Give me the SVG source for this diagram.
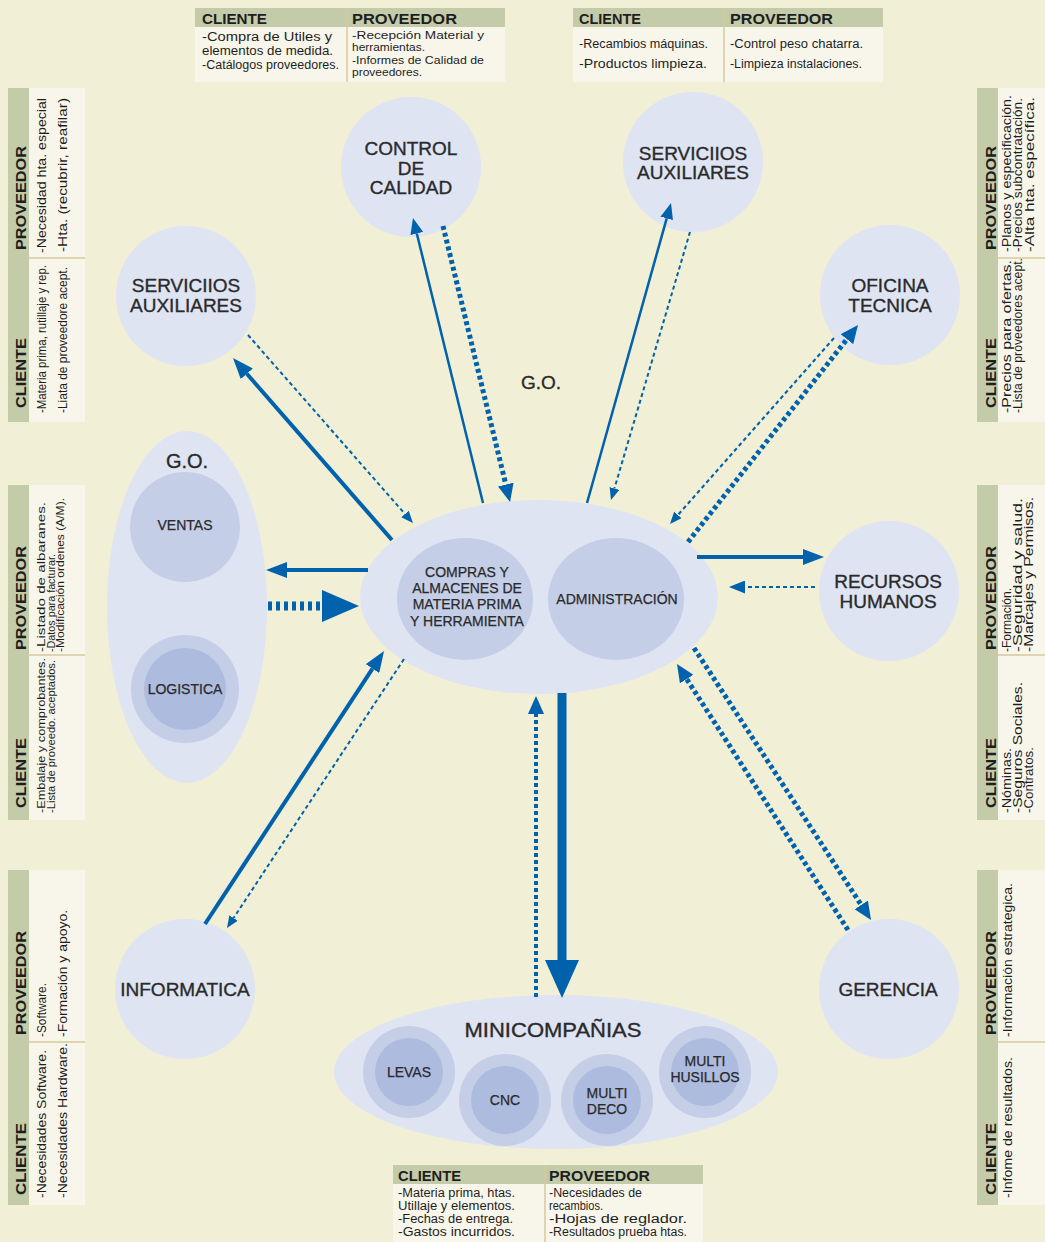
<svg xmlns="http://www.w3.org/2000/svg" width="1045" height="1242" viewBox="0 0 1045 1242">
<style>
.tb{fill:#f8f6ea}
.th{fill:#c3cba9}
.dv{stroke:#d8c89c;stroke-width:1.5}
.hd{font-family:"Liberation Sans",Arial,sans-serif;font-weight:bold;font-size:15px;fill:#1e1e1e}
.bd{font-family:"Liberation Sans",Arial,sans-serif;font-size:12.5px;fill:#1e1e1e}
.bt{font-family:"Liberation Sans",Arial,sans-serif;font-size:10.5px;fill:#1e1e1e}
.bs{font-family:"Liberation Sans",Arial,sans-serif;font-size:11.5px;fill:#1e1e1e}
.n1{fill:#dfe4f3}
.n2{fill:#c5cee7}
.n3{fill:#adbbdf}
.lb{font-family:"Liberation Sans",Arial,sans-serif;font-size:19px;fill:#2a2a2a;text-anchor:middle;stroke:#2a2a2a;stroke-width:0.35}
.ls{font-family:"Liberation Sans",Arial,sans-serif;font-size:14px;fill:#2a2a2a;text-anchor:middle;stroke:#2a2a2a;stroke-width:0.25}
.c{fill:none;stroke:#0062ac}
.sol4{stroke-width:4}
.sol2{stroke-width:2.5}
.da{stroke-width:2;stroke-dasharray:4 3}
.dot{stroke-width:5;stroke-dasharray:4 3}
</style>
<defs>
<marker id="aL" markerUnits="userSpaceOnUse" markerWidth="21" markerHeight="16" refX="0" refY="8" orient="auto"><path d="M0,0 L21,8 L0,16 z" fill="#0062ac"/></marker>
<marker id="aM" markerUnits="userSpaceOnUse" markerWidth="16" markerHeight="13" refX="0" refY="6.5" orient="auto"><path d="M0,0 L16,6.5 L0,13 z" fill="#0062ac"/></marker>
<marker id="aS" markerUnits="userSpaceOnUse" markerWidth="12" markerHeight="10" refX="0" refY="5" orient="auto"><path d="M0,0 L12,5 L0,10 z" fill="#0062ac"/></marker>
<marker id="aD" markerUnits="userSpaceOnUse" markerWidth="18" markerHeight="16" refX="0" refY="8" orient="auto"><path d="M0,0 L18,8 L0,16 z" fill="#0062ac"/></marker>
<marker id="aB" markerUnits="userSpaceOnUse" markerWidth="38" markerHeight="34" refX="0" refY="17" orient="auto"><path d="M0,0 L38,17 L0,34 z" fill="#0062ac"/></marker>
<marker id="aG" markerUnits="userSpaceOnUse" markerWidth="37" markerHeight="32" refX="0" refY="16" orient="auto"><path d="M0,0 L37,16 L0,32 z" fill="#0062ac"/></marker>
</defs>
<rect width="1045" height="1242" fill="#f1efd5"/>

<!-- Top table 1 -->
<g id="tabla-calidad">
<rect class="tb" x="195" y="8" width="310" height="74"/>
<rect class="th" x="195" y="8" width="310" height="19"/>
<line class="dv" x1="347" y1="8" x2="347" y2="82"/>
<text class="hd" x="202" y="24" textLength="65" lengthAdjust="spacingAndGlyphs">CLIENTE</text>
<text class="hd" x="352" y="24" textLength="105" lengthAdjust="spacingAndGlyphs">PROVEEDOR</text>
<text class="bd" x="202" y="41" textLength="130" lengthAdjust="spacingAndGlyphs">-Compra de Utiles y</text>
<text class="bd" x="202" y="55" textLength="131" lengthAdjust="spacingAndGlyphs">elementos de medida.</text>
<text class="bd" x="202" y="69" textLength="137" lengthAdjust="spacingAndGlyphs">-Catálogos proveedores.</text>
<text class="bt" x="352" y="39" textLength="132" lengthAdjust="spacingAndGlyphs">-Recepción Material y</text>
<text class="bt" x="352" y="51" textLength="73" lengthAdjust="spacingAndGlyphs">herramientas.</text>
<text class="bt" x="352" y="64" textLength="132" lengthAdjust="spacingAndGlyphs">-Informes de Calidad de</text>
<text class="bt" x="352" y="76" textLength="70" lengthAdjust="spacingAndGlyphs">proveedores.</text>
</g>

<!-- Top table 2 -->
<g id="tabla-servicios-top">
<rect class="tb" x="573" y="8" width="310" height="74"/>
<rect class="th" x="573" y="8" width="310" height="19"/>
<line class="dv" x1="724" y1="8" x2="724" y2="82"/>
<text class="hd" x="579" y="24" textLength="62" lengthAdjust="spacingAndGlyphs">CLIENTE</text>
<text class="hd" x="730" y="24" textLength="103" lengthAdjust="spacingAndGlyphs">PROVEEDOR</text>
<text class="bd" x="579" y="48" textLength="129" lengthAdjust="spacingAndGlyphs">-Recambios máquinas.</text>
<text class="bd" x="579" y="68" textLength="128" lengthAdjust="spacingAndGlyphs">-Productos  limpieza.</text>
<text class="bd" x="730" y="48" textLength="133" lengthAdjust="spacingAndGlyphs">-Control peso chatarra.</text>
<text class="bd" x="730" y="68" textLength="132" lengthAdjust="spacingAndGlyphs">-Limpieza instalaciones.</text>
</g>

<!-- Left table 1 -->
<g id="tabla-servicios-izq">
<rect class="tb" x="8" y="88" width="77" height="334"/>
<rect class="th" x="8" y="88" width="21" height="334"/>
<line class="dv" x1="29" y1="258" x2="85" y2="258"/>
<text class="hd" x="26" y="250" transform="rotate(-90 26 250)" textLength="104" lengthAdjust="spacingAndGlyphs">PROVEEDOR</text>
<text class="hd" x="26" y="408" transform="rotate(-90 26 408)" textLength="70" lengthAdjust="spacingAndGlyphs">CLIENTE</text>
<text class="bd" x="46" y="253" transform="rotate(-90 46 253)" textLength="155" lengthAdjust="spacingAndGlyphs">-Necesidad hta. especial</text>
<text class="bd" x="67" y="252" transform="rotate(-90 67 252)" textLength="154" lengthAdjust="spacingAndGlyphs">-Hta.  (recubrir,  reafilar)</text>
<text class="bd" x="46" y="413" transform="rotate(-90 46 413)" textLength="148" lengthAdjust="spacingAndGlyphs">-Materia prima, rutillaje y rep.</text>
<text class="bd" x="67" y="413" transform="rotate(-90 67 413)" textLength="146" lengthAdjust="spacingAndGlyphs">-Liata de proveedore acept.</text>
</g>

<!-- Left table 2 -->
<g id="tabla-go">
<rect class="tb" x="8" y="485" width="77" height="335"/>
<rect class="th" x="8" y="485" width="21" height="335"/>
<line class="dv" x1="29" y1="655" x2="85" y2="655"/>
<text class="hd" x="26" y="650" transform="rotate(-90 26 650)" textLength="104" lengthAdjust="spacingAndGlyphs">PROVEEDOR</text>
<text class="hd" x="26" y="808" transform="rotate(-90 26 808)" textLength="70" lengthAdjust="spacingAndGlyphs">CLIENTE</text>
<text class="bs" x="45" y="652" transform="rotate(-90 45 652)" textLength="150" lengthAdjust="spacingAndGlyphs">-Listado  de  albaranes.</text>
<text class="bs" x="55" y="652" transform="rotate(-90 55 652)" textLength="98" lengthAdjust="spacingAndGlyphs">-Datos para facturar.</text>
<text class="bs" x="64" y="652" transform="rotate(-90 64 652)" textLength="154" lengthAdjust="spacingAndGlyphs">-Modificación ordenes (A/M).</text>
<text class="bs" x="45" y="813" transform="rotate(-90 45 813)" textLength="155" lengthAdjust="spacingAndGlyphs">-Embalaje  y  comprobantes.</text>
<text class="bs" x="55" y="813" transform="rotate(-90 55 813)" textLength="153" lengthAdjust="spacingAndGlyphs">-Lista de proveedo. aceptados.</text>
</g>

<!-- Left table 3 -->
<g id="tabla-informatica">
<rect class="tb" x="8" y="870" width="77" height="335"/>
<rect class="th" x="8" y="870" width="21" height="335"/>
<line class="dv" x1="29" y1="1042" x2="85" y2="1042"/>
<text class="hd" x="26" y="1035" transform="rotate(-90 26 1035)" textLength="104" lengthAdjust="spacingAndGlyphs">PROVEEDOR</text>
<text class="hd" x="26" y="1195" transform="rotate(-90 26 1195)" textLength="72" lengthAdjust="spacingAndGlyphs">CLIENTE</text>
<text class="bd" x="46" y="1037" transform="rotate(-90 46 1037)" textLength="54" lengthAdjust="spacingAndGlyphs">-Software.</text>
<text class="bd" x="67" y="1037" transform="rotate(-90 67 1037)" textLength="127" lengthAdjust="spacingAndGlyphs">-Formación  y apoyo.</text>
<text class="bd" x="46" y="1198" transform="rotate(-90 46 1198)" textLength="148" lengthAdjust="spacingAndGlyphs">-Necesidades  Software.</text>
<text class="bd" x="67" y="1198" transform="rotate(-90 67 1198)" textLength="155" lengthAdjust="spacingAndGlyphs">-Necesidades Hardware.</text>
</g>

<!-- Right table 1 -->
<g id="tabla-oficina">
<rect class="tb" x="977" y="88" width="68" height="334"/>
<rect class="th" x="977" y="88" width="21" height="334"/>
<line class="dv" x1="998" y1="258" x2="1045" y2="258"/>
<text class="hd" x="996" y="250" transform="rotate(-90 996 250)" textLength="104" lengthAdjust="spacingAndGlyphs">PROVEEDOR</text>
<text class="hd" x="996" y="408" transform="rotate(-90 996 408)" textLength="70" lengthAdjust="spacingAndGlyphs">CLIENTE</text>
<text class="bd" x="1011" y="252" transform="rotate(-90 1011 252)" textLength="157" lengthAdjust="spacingAndGlyphs">-Planos y especificación.</text>
<text class="bd" x="1022" y="252" transform="rotate(-90 1022 252)" textLength="154" lengthAdjust="spacingAndGlyphs">-Precios subcontratación.</text>
<text class="bd" x="1034" y="252" transform="rotate(-90 1034 252)" textLength="155" lengthAdjust="spacingAndGlyphs">-Alta  hta.  específica.</text>
<text class="bd" x="1011" y="413" transform="rotate(-90 1011 413)" textLength="153" lengthAdjust="spacingAndGlyphs">-Precios  para  ofertas.</text>
<text class="bd" x="1022" y="413" transform="rotate(-90 1022 413)" textLength="155" lengthAdjust="spacingAndGlyphs">-Lista de proveedores acept.</text>
</g>

<!-- Right table 2 -->
<g id="tabla-rrhh">
<rect class="tb" x="977" y="485" width="68" height="335"/>
<rect class="th" x="977" y="485" width="21" height="335"/>
<line class="dv" x1="998" y1="655" x2="1045" y2="655"/>
<text class="hd" x="996" y="650" transform="rotate(-90 996 650)" textLength="104" lengthAdjust="spacingAndGlyphs">PROVEEDOR</text>
<text class="hd" x="996" y="808" transform="rotate(-90 996 808)" textLength="70" lengthAdjust="spacingAndGlyphs">CLIENTE</text>
<text class="bd" x="1011" y="652" transform="rotate(-90 1011 652)" textLength="64" lengthAdjust="spacingAndGlyphs">-Formación.</text>
<text class="bd" x="1022" y="652" transform="rotate(-90 1022 652)" textLength="154" lengthAdjust="spacingAndGlyphs">-Seguridad  y  salud.</text>
<text class="bd" x="1033" y="652" transform="rotate(-90 1033 652)" textLength="155" lengthAdjust="spacingAndGlyphs">-Marcajes y Permisos.</text>
<text class="bd" x="1011" y="813" transform="rotate(-90 1011 813)" textLength="65" lengthAdjust="spacingAndGlyphs">-Nóminas.</text>
<text class="bd" x="1022" y="813" transform="rotate(-90 1022 813)" textLength="131" lengthAdjust="spacingAndGlyphs">-Seguros Sociales.</text>
<text class="bd" x="1033" y="813" transform="rotate(-90 1033 813)" textLength="66" lengthAdjust="spacingAndGlyphs">-Contratos.</text>
</g>

<!-- Right table 3 -->
<g id="tabla-gerencia">
<rect class="tb" x="977" y="870" width="68" height="335"/>
<rect class="th" x="977" y="870" width="21" height="335"/>
<line class="dv" x1="998" y1="1042" x2="1045" y2="1042"/>
<text class="hd" x="996" y="1035" transform="rotate(-90 996 1035)" textLength="104" lengthAdjust="spacingAndGlyphs">PROVEEDOR</text>
<text class="hd" x="996" y="1195" transform="rotate(-90 996 1195)" textLength="72" lengthAdjust="spacingAndGlyphs">CLIENTE</text>
<text class="bd" x="1012" y="1037" transform="rotate(-90 1012 1037)" textLength="154" lengthAdjust="spacingAndGlyphs">-Información estrategica.</text>
<text class="bd" x="1012" y="1198" transform="rotate(-90 1012 1198)" textLength="141" lengthAdjust="spacingAndGlyphs">-Infome de resultados.</text>
</g>

<!-- Bottom table -->
<g id="tabla-minicompanias">
<rect class="tb" x="393" y="1165" width="310" height="77"/>
<rect class="th" x="393" y="1165" width="310" height="19"/>
<line class="dv" x1="545" y1="1165" x2="545" y2="1242"/>
<text class="hd" x="398" y="1181" textLength="63" lengthAdjust="spacingAndGlyphs">CLIENTE</text>
<text class="hd" x="549" y="1181" textLength="101" lengthAdjust="spacingAndGlyphs">PROVEEDOR</text>
<text class="bd" x="398" y="1197" textLength="117" lengthAdjust="spacingAndGlyphs">-Materia prima, htas.</text>
<text class="bd" x="398" y="1210" textLength="117" lengthAdjust="spacingAndGlyphs">Utillaje y elementos.</text>
<text class="bd" x="398" y="1223" textLength="115" lengthAdjust="spacingAndGlyphs">-Fechas de entrega.</text>
<text class="bd" x="398" y="1236" textLength="117" lengthAdjust="spacingAndGlyphs">-Gastos  incurridos.</text>
<text class="bd" x="549" y="1197" textLength="93" lengthAdjust="spacingAndGlyphs">-Necesidades de</text>
<text class="bd" x="549" y="1210" textLength="54" lengthAdjust="spacingAndGlyphs">recambios.</text>
<text class="bd" x="549" y="1223" textLength="138" lengthAdjust="spacingAndGlyphs">-Hojas  de  reglador.</text>
<text class="bd" x="549" y="1236" textLength="138" lengthAdjust="spacingAndGlyphs">-Resultados prueba htas.</text>
</g>

<!-- Nodes -->
<g id="control-calidad">
<circle class="n1" cx="411" cy="167" r="70"/>
<text class="lb" x="411" y="155">CONTROL</text>
<text class="lb" x="411" y="175">DE</text>
<text class="lb" x="411" y="194">CALIDAD</text>
</g>
<g id="servicios-auxiliares-top">
<circle class="n1" cx="693" cy="162" r="70"/>
<text class="lb" x="693" y="160">SERVICIIOS</text>
<text class="lb" x="693" y="179">AUXILIARES</text>
</g>
<g id="servicios-auxiliares-izq">
<circle class="n1" cx="186" cy="296" r="70"/>
<text class="lb" x="186" y="292">SERVICIIOS</text>
<text class="lb" x="186" y="312">AUXILIARES</text>
</g>
<g id="oficina-tecnica">
<circle class="n1" cx="890" cy="295" r="70"/>
<text class="lb" x="890" y="292">OFICINA</text>
<text class="lb" x="890" y="312">TECNICA</text>
</g>
<g id="recursos-humanos">
<circle class="n1" cx="889" cy="591" r="70"/>
<text class="lb" x="888" y="588">RECURSOS</text>
<text class="lb" x="888" y="608">HUMANOS</text>
</g>
<g id="gerencia">
<circle class="n1" cx="889" cy="989" r="70"/>
<text class="lb" x="888" y="996">GERENCIA</text>
</g>
<g id="informatica">
<circle class="n1" cx="185" cy="989" r="70"/>
<text class="lb" x="185" y="996">INFORMATICA</text>
</g>
<g id="go-label">
<text class="lb" x="541" y="389">G.O.</text>
</g>
<g id="go-grupo">
<ellipse class="n1" cx="187" cy="607" rx="80" ry="176"/>
<text class="lb" x="187" y="468" style="font-size:20px">G.O.</text>
<circle class="n2" cx="185" cy="527" r="55"/>
<text class="ls" x="185" y="530">VENTAS</text>
<circle class="n2" cx="185" cy="689" r="54"/>
<circle class="n3" cx="185" cy="689" r="41"/>
<text class="ls" x="185" y="694">LOGISTICA</text>
</g>
<g id="central">
<ellipse class="n1" cx="539" cy="597" rx="179" ry="97"/>
<ellipse class="n2" cx="465" cy="599" rx="68" ry="61"/>
<text class="ls" x="467" y="577">COMPRAS Y</text>
<text class="ls" x="467" y="593">ALMACENES DE</text>
<text class="ls" x="467" y="609">MATERIA PRIMA</text>
<text class="ls" x="467" y="626">Y HERRAMIENTA</text>
<ellipse class="n2" cx="616" cy="599" rx="68" ry="61"/>
<text class="ls" x="617" y="604">ADMINISTRACIÓN</text>
</g>
<g id="minicompanias">
<ellipse class="n1" cx="556" cy="1072" rx="222" ry="77"/>
<text class="lb" x="553" y="1037" style="font-size:20px" textLength="177" lengthAdjust="spacingAndGlyphs">MINICOMPAÑIAS</text>
<circle class="n2" cx="409" cy="1072" r="46"/>
<circle class="n3" cx="409" cy="1072" r="34"/>
<text class="ls" x="409" y="1077">LEVAS</text>
<circle class="n2" cx="505" cy="1100" r="46"/>
<circle class="n3" cx="505" cy="1100" r="34"/>
<text class="ls" x="505" y="1105">CNC</text>
<circle class="n2" cx="607" cy="1100" r="46"/>
<circle class="n3" cx="607" cy="1100" r="34"/>
<text class="ls" x="607" y="1098">MULTI</text>
<text class="ls" x="607" y="1114">DECO</text>
<circle class="n2" cx="705" cy="1072" r="46"/>
<circle class="n3" cx="705" cy="1072" r="34"/>
<text class="ls" x="705" y="1066">MULTI</text>
<text class="ls" x="705" y="1082">HUSILLOS</text>
</g>

<!-- Connectors -->
<g id="connectors">
<path class="c sol4" d="M392,540 L246.8,373.8" marker-end="url(#aL)"/>
<path class="c da" d="M248,335 L405,514" marker-end="url(#aS)"/>
<path class="c sol2" d="M483,503 L416.8,233.5" marker-end="url(#aM)"/>
<path class="c dot" d="M443,226 L505.8,484.5" marker-end="url(#aD)"/>
<path class="c sol2" d="M587,503 L666.7,218.4" marker-end="url(#aM)"/>
<path class="c da" d="M690,232 L614.4,488.5" marker-end="url(#aS)"/>
<path class="c da" d="M834,338 L677.9,515" marker-end="url(#aS)"/>
<path class="c dot" d="M688,542 L846.9,339.2" marker-end="url(#aD)"/>
<path class="c sol4" d="M697,557 L803,557" marker-end="url(#aL)"/>
<path class="c da" d="M815,587 L745,587" marker-end="url(#aM)"/>
<path class="c dot" d="M848,930 L686.7,679.1" marker-end="url(#aD)"/>
<path class="c dot" d="M694,648 L861.2,904.9" marker-end="url(#aD)"/>
<path class="c" style="stroke-width:9" d="M562,693 L562,960" marker-end="url(#aB)"/>
<path class="c" style="stroke-width:4;stroke-dasharray:4 3" d="M536,997 L536,714" marker-end="url(#aD)"/>
<path class="c sol4" d="M205,924 L372.5,668.6" marker-end="url(#aL)"/>
<path class="c da" d="M404,659 L233.6,918" marker-end="url(#aS)"/>
<path class="c sol4" d="M368,570 L287,570" marker-end="url(#aL)"/>
<path class="c" style="stroke-width:9;stroke-dasharray:4 4" d="M268,606 L322,606" marker-end="url(#aG)"/>
</g>
</svg>
